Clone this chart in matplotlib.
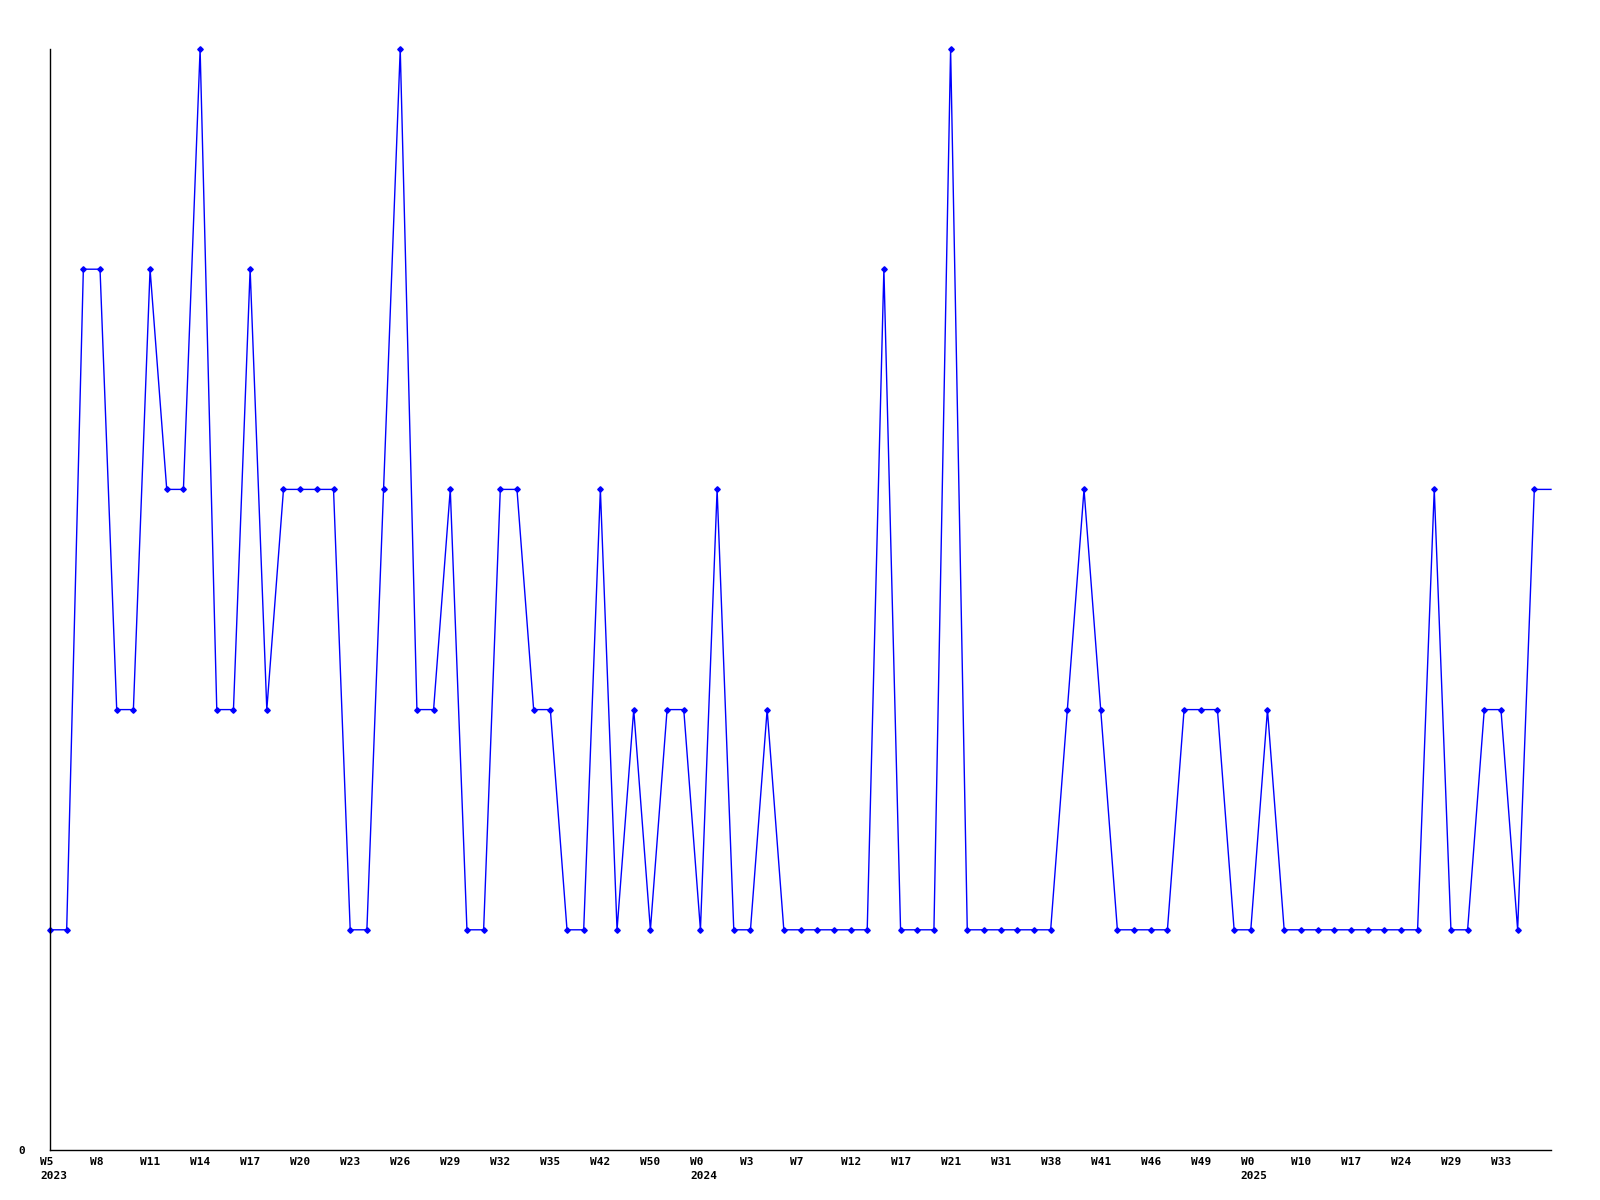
import numpy as np
import matplotlib
matplotlib.use("Agg")
import matplotlib.pyplot as plt
import matplotlib.transforms as mtransforms

# weekly values, one per point
values = [1, 1, 4, 4, 2, 2, 4, 3, 3, 5,
          2, 2, 4, 2, 3, 3, 3, 3, 1, 1,
          3, 5, 2, 2, 3, 1, 1, 3, 3, 2,
          2, 1, 1, 3, 1, 2, 1, 2, 2, 1,
          3, 1, 1, 2, 1, 1, 1, 1, 1, 1,
          4, 1, 1, 1, 5, 1, 1, 1, 1, 1,
          1, 2, 3, 2, 1, 1, 1, 1, 2, 2,
          2, 1, 1, 2, 1, 1, 1, 1, 1, 1,
          1, 1, 1, 3, 1, 1, 2, 2, 1, 3,
          3]

# tick labels (every third point)
week_labels = ["W5", "W8", "W11", "W14", "W17", "W20", "W23", "W26", "W29", "W32",
               "W35", "W42", "W50", "W0", "W3", "W7", "W12", "W17", "W21", "W31",
               "W38", "W41", "W46", "W49", "W0", "W10", "W17", "W24", "W29", "W33"]
year_labels = {0: "2023", 13: "2024", 24: "2025"}

x = np.arange(len(values))

fig = plt.figure(figsize=(16, 12), dpi=100)
ax = fig.add_axes([50/1600, 50/1200, 1501/1600, 1101/1200])

ax.plot(x, values, color="#0000ff", linewidth=1, clip_on=False)
# last point has no marker
ax.plot(x[:-1], values[:-1], linestyle="none", marker="D", markersize=2.8,
        color="#0000ff", clip_on=False)

ax.set_xlim(0, len(values) - 1)
ax.set_ylim(0, 5)

for s in ["top", "right"]:
    ax.spines[s].set_visible(False)
for s in ["left", "bottom"]:
    ax.spines[s].set_color("black")
    ax.spines[s].set_linewidth(1)

labels = []
for i, w in enumerate(week_labels):
    if i in year_labels:
        labels.append(w + "\n" + year_labels[i])
    else:
        labels.append(w)
ax.set_xticks(x[::3][:len(week_labels)])
ax.set_xticklabels(labels, fontfamily="DejaVu Sans Mono", fontweight="bold",
                   fontsize=8, ha="left", va="top", linespacing=1.5)
ax.tick_params(axis="x", length=0, pad=5)
offset = mtransforms.ScaledTranslation(-10/100, 0, fig.dpi_scale_trans)
for lbl in ax.get_xticklabels():
    lbl.set_transform(lbl.get_transform() + offset)

ax.set_yticks([0])
ax.set_yticklabels(["0"], fontfamily="DejaVu Sans Mono", fontweight="bold", fontsize=8)
ax.tick_params(axis="y", length=0, pad=18)

fig.savefig("out.png", dpi=100)
